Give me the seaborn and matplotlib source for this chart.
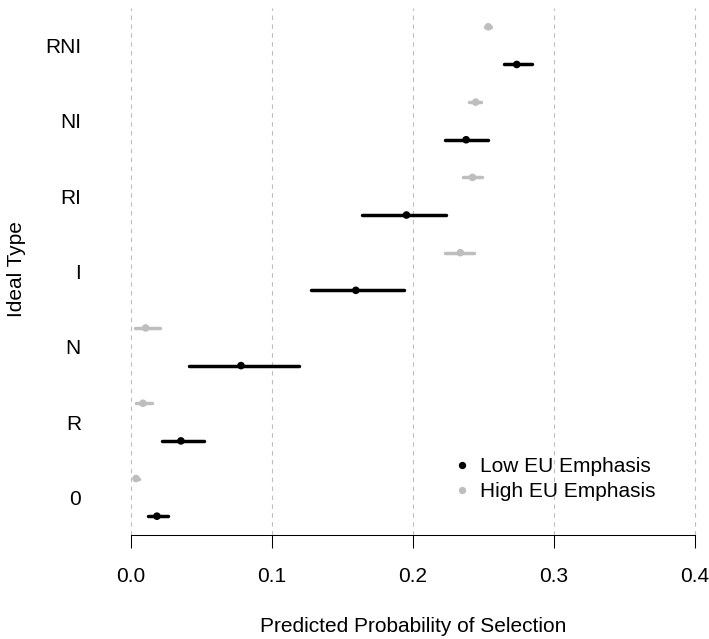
import numpy as np
import pandas as pd
import matplotlib
matplotlib.use("Agg")
import matplotlib.pyplot as plt
import seaborn as sns
from matplotlib.lines import Line2D

# ---- data ----
categories = ["0", "R", "N", "I", "RI", "NI", "RNI"]
low_est = [0.0186, 0.0356, 0.0782, 0.1596, 0.1955, 0.2378, 0.2737]
low_lo = [0.0120, 0.0220, 0.0410, 0.1280, 0.1640, 0.2225, 0.2645]
low_hi = [0.0265, 0.0520, 0.1190, 0.1935, 0.2237, 0.2532, 0.2843]
high_est = [0.0038, 0.0087, 0.0106, 0.2337, 0.2423, 0.2446, 0.2535]
high_lo = [0.0023, 0.0035, 0.0030, 0.2231, 0.2356, 0.2401, 0.2513]
high_hi = [0.0060, 0.0150, 0.0210, 0.2436, 0.2490, 0.2487, 0.2557]
groups = ["Low EU Emphasis", "High EU Emphasis"]
xticks = [0.0, 0.1, 0.2, 0.3, 0.4]
xtick_labels = ["0.0", "0.1", "0.2", "0.3", "0.4"]

colors = {"Low EU Emphasis": "black", "High EU Emphasis": "#BEBEBE"}
offsets = {"Low EU Emphasis": -0.25, "High EU Emphasis": 0.25}

pos = np.arange(1, len(categories) + 1)
rows = []
for g, est, lo, hi in [(groups[0], low_est, low_lo, low_hi),
                       (groups[1], high_est, high_lo, high_hi)]:
    for i, c in enumerate(categories):
        rows.append({"category": c, "group": g, "est": est[i], "lo": lo[i],
                     "hi": hi[i], "y": pos[i] + offsets[g]})
df = pd.DataFrame(rows)

sns.set_style("white")
plt.rcParams["font.family"] = ["Liberation Sans", "DejaVu Sans"]
plt.rcParams["text.color"] = "black"
plt.rcParams["axes.labelcolor"] = "black"
plt.rcParams["xtick.color"] = "black"
plt.rcParams["ytick.color"] = "black"

W, H = 709, 639
fig = plt.figure(figsize=(W / 100, H / 100), dpi=100)
ax = fig.add_axes([100 / W, 1 - 535 / H, 609 / W, 527 / H])

xmin = -30.7 / 1410.5
xmax = 0.4 + (709 - 694.9) / 1410.5
ax.set_xlim(xmin, xmax)
ax.set_ylim(0.5, 7.5)

# grid
ax.grid(True, axis="x", color="#BEBEBE", lw=0.8, ls=(0, (4, 4)), zorder=0)
ax.grid(False, axis="y")

# intervals
for g in groups:
    sub = df[df["group"] == g]
    ax.hlines(sub["y"], sub["lo"], sub["hi"], color=colors[g], lw=2.5,
              capstyle="round", zorder=2)

# points
sns.scatterplot(data=df, x="est", y="y", hue="group", palette=colors,
                s=30, linewidth=0, legend=False, zorder=3, ax=ax)

# axes styling
for s in ["left", "top", "right"]:
    ax.spines[s].set_visible(False)
ax.spines["bottom"].set_bounds(0, 0.4)
ax.spines["bottom"].set_linewidth(0.75)
ax.spines["bottom"].set_color("black")

ax.set_xticks(xticks)
ax.set_xticklabels(xtick_labels)
ax.set_yticks(pos)
ax.set_yticklabels(categories)
ax.tick_params(axis="x", bottom=True, length=9.4, width=0.75, pad=13.5,
               labelsize=15, direction="out")
ax.tick_params(axis="y", left=False, length=0, pad=13.7, labelsize=15)

ax.set_xlabel("Predicted Probability of Selection", fontsize=15)
ax.xaxis.set_label_coords((0.2 - xmin) / (xmax - xmin), -0.1547)
ax.set_ylabel("Ideal Type", fontsize=15)
ax.yaxis.set_label_coords(-0.1223, 0.504)

handles = [Line2D([], [], marker="o", ls="", color=colors[g],
                  markersize=5.3, markeredgewidth=0) for g in groups]
ax.legend(handles, groups, loc="center left",
          bbox_to_anchor=(453.4 / W, 1 - 479.2 / H),
          bbox_transform=fig.transFigure, frameon=False, fontsize=15,
          handlelength=0.8, handletextpad=0.5, labelspacing=0.3,
          borderpad=0, borderaxespad=0)

fig.savefig("out.png", dpi=100)
